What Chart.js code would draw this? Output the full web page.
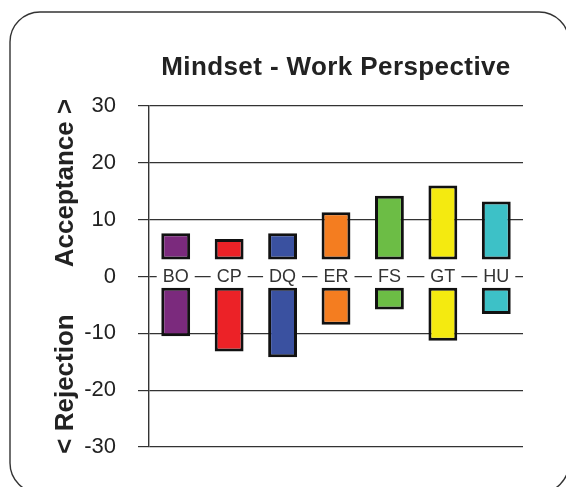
<!DOCTYPE html>
<html>
<head>
<meta charset="utf-8">
<script src="https://cdn.jsdelivr.net/npm/chart.js@4/dist/chart.umd.min.js"></script>
<style>
  html, body { margin: 0; padding: 0; background: #fff; }
  #wrap { width: 566px; height: 487px; }
</style>
</head>
<body>
<div id="wrap"><canvas id="chart" width="566" height="487"></canvas></div>
<script>
// Chart content
const chartTitle = 'Mindset - Work Perspective';
const upperAxisTitle = 'Acceptance >';
const lowerAxisTitle = '< Rejection';
const categories = ['BO', 'CP', 'DQ', 'ER', 'FS', 'GT', 'HU'];
const acceptance = [7.6, 6.6, 7.6, 11.3, 14.2, 16.0, 13.2];
const rejection = [-10.5, -13.2, -14.2, -8.5, -5.8, -11.3, -6.6];
const acceptanceBase = 3;
const rejectionBase = -2;
const yTicks = [-30, -20, -10, 0, 10, 20, 30];
const barColors = ['#7B2A7D', '#EC2227', '#3A51A0', '#F47D20', '#6CBD45', '#F4EA10', '#3DC1C7'];

const FONT = '"Liberation Sans", Arial, Helvetica, sans-serif';
const INK = '#222';

// Rounded frame, title, the two rotated axis titles and the category names on the zero line
const decorations = {
  id: 'decorations',
  beforeDraw(chart) {
    const ctx = chart.ctx;
    ctx.save();
    ctx.fillStyle = '#fff';
    ctx.fillRect(0, 0, chart.width, chart.height);
    ctx.beginPath();
    ctx.roundRect(10, 12, 559, 481, 30);
    ctx.strokeStyle = '#333';
    ctx.lineWidth = 1.4;
    ctx.stroke();
    ctx.restore();
  },
  afterDatasetsDraw(chart) {
    const ctx = chart.ctx;
    const x = chart.scales.x;
    const y = chart.scales.y;
    const y0 = y.getPixelForValue(0);

    ctx.save();
    ctx.font = '18px ' + FONT;
    ctx.textAlign = 'center';
    ctx.textBaseline = 'middle';
    categories.forEach((name, i) => {
      const cx = x.getPixelForValue(i);
      const w = ctx.measureText(name).width;
      ctx.fillStyle = '#fff';
      ctx.fillRect(cx - w / 2 - 6, y0 - 5, w + 12, 10);
      ctx.fillStyle = '#333';
      ctx.fillText(name, cx, y0 + 1);
    });

    // title
    ctx.fillStyle = INK;
    ctx.font = 'bold 26px ' + FONT;
    ctx.letterSpacing = '0.4px';
    ctx.textAlign = 'center';
    ctx.textBaseline = 'alphabetic';
    ctx.fillText(chartTitle, 336, 75);
    ctx.letterSpacing = '0px';

    // rotated axis titles
    ctx.font = 'bold 26px ' + FONT;
    [[upperAxisTitle, 183], [lowerAxisTitle, 384]].forEach(([t, cy]) => {
      ctx.save();
      ctx.translate(73, cy);
      ctx.rotate(-Math.PI / 2);
      ctx.fillText(t, 0, 0);
      ctx.restore();
    });
    ctx.restore();
  }
};

new Chart(document.getElementById('chart'), {
  type: 'bar',
  data: {
    labels: categories,
    datasets: [
      {
        label: 'Acceptance',
        data: acceptance.map(v => [acceptanceBase, v]),
        backgroundColor: barColors,
        borderColor: '#111',
        borderWidth: 3,
        borderSkipped: false,
        grouped: false,
        barPercentage: 0.54,
        categoryPercentage: 1
      },
      {
        label: 'Rejection',
        data: rejection.map(v => [rejectionBase, v]),
        backgroundColor: barColors,
        borderColor: '#111',
        borderWidth: 3,
        borderSkipped: false,
        grouped: false,
        barPercentage: 0.54,
        categoryPercentage: 1
      }
    ]
  },
  options: {
    responsive: false,
    animation: false,
    devicePixelRatio: 1,
    layout: { padding: { top: 106, right: 43, bottom: 40, left: 0 } },
    plugins: {
      legend: { display: false },
      title: { display: false },
      tooltip: { enabled: false }
    },
    scales: {
      x: { display: false, grid: { display: false } },
      y: {
        min: -30,
        max: 30,
        afterBuildTicks: s => { s.ticks = yTicks.map(v => ({ value: v })); },
        afterFit: s => { s.width = 149; },
        ticks: {
          color: INK,
          font: { family: FONT, size: 22 },
          padding: 22
        },
        grid: {
          color: '#333',
          lineWidth: 1.2,
          drawTicks: true,
          tickLength: 11
        },
        border: { display: true, color: '#333', width: 1.4 }
      }
    }
  },
  plugins: [decorations]
});
</script>
</body>
</html>
